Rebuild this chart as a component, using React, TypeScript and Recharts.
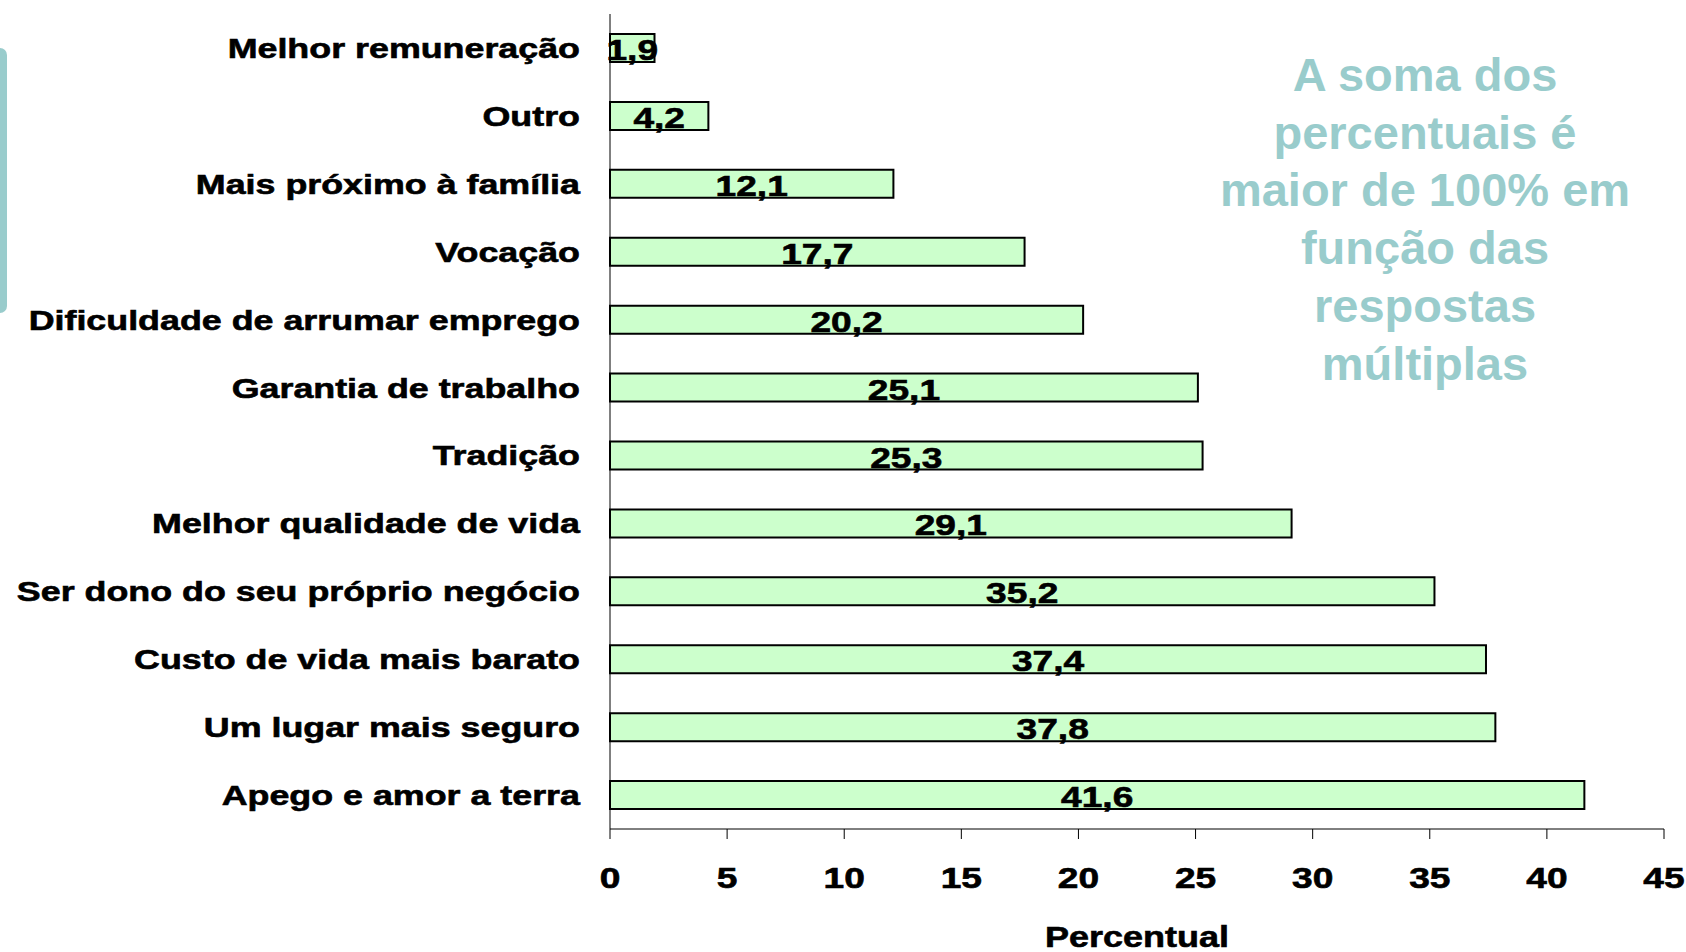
import React from 'react';
import { BarChart, Bar, XAxis, YAxis, LabelList } from 'recharts';

const categories = [
  'Melhor remuneração',
  'Outro',
  'Mais próximo à família',
  'Vocação',
  'Dificuldade de arrumar emprego',
  'Garantia de trabalho',
  'Tradição',
  'Melhor qualidade de vida',
  'Ser dono do seu próprio negócio',
  'Custo de vida mais barato',
  'Um lugar mais seguro',
  'Apego e amor a terra',
];

const percentuais = [1.9, 4.2, 12.1, 17.7, 20.2, 25.1, 25.3, 29.1, 35.2, 37.4, 37.8, 41.6];

const xTicks = [0, 5, 10, 15, 20, 25, 30, 35, 40, 45];

const noteLines = ['A soma dos', 'percentuais é', 'maior de 100% em', 'função das', 'respostas', 'múltiplas'];

const data = categories.map((name, i) => ({ name, value: percentuais[i] }));

const FONT = '"Liberation Sans", Arial, sans-serif';
const TEAL = '#99CCCC';
// the source chart's text is stretched sideways and a bit heavier
const STRETCH = 1.28;
const HEAVY = { stroke: '#000', strokeWidth: 0.6 };

const fmt = (v: number) => v.toFixed(1).replace('.', ',');

const CategoryTick = ({ x, y, payload }: any) => (
  <g transform={`translate(${x},${y}) scale(${STRETCH},1)`}>
    <text textAnchor="end" dy={10} fontSize={28} fontWeight="bold" fill="#000" fontFamily={FONT} {...HEAVY}>
      {payload.value}
    </text>
  </g>
);

const ValueTick = ({ x, y, payload }: any) => (
  <g transform={`translate(${x},${y}) scale(${STRETCH},1)`}>
    <text textAnchor="middle" dy={47} fontSize={29} fontWeight="bold" fill="#000" fontFamily={FONT} {...HEAVY}>
      {payload.value}
    </text>
  </g>
);

const renderBarLabel = ({ x, y, width, height, value }: any) => {
  const cx = x + width / 2;
  const cy = y + height / 2 + 12;
  return (
    <g transform={`translate(${cx},${cy}) scale(${STRETCH},1)`}>
      <text textAnchor="middle" fontSize={29} fontWeight="bold" fill="#000" fontFamily={FONT} {...HEAVY}>
        {fmt(value)}
      </text>
    </g>
  );
};

const renderAxisTitle = ({ viewBox }: any) => {
  const cx = viewBox.x + viewBox.width / 2;
  const by = viewBox.y + 118;
  return (
    <g transform={`translate(${cx},${by}) scale(1.2,1)`}>
      <text textAnchor="middle" fontSize={30} fontWeight="bold" fill="#000" fontFamily={FONT} {...HEAVY}>
        Percentual
      </text>
    </g>
  );
};

const App = () => {
  return (
    <div
      style={{
        position: 'absolute',
        left: 0,
        top: 0,
        width: 1686,
        height: 952,
        background: '#fff',
        overflow: 'hidden',
      }}
    >
      <div
        style={{
          position: 'absolute',
          left: 0,
          top: 48,
          width: 7,
          height: 265,
          background: TEAL,
          borderTopRightRadius: 7,
          borderBottomRightRadius: 7,
        }}
      />
      <BarChart
        width={1686}
        height={952}
        data={data}
        layout="vertical"
        margin={{ top: 14, right: 22, bottom: 0, left: 0 }}
      >
        <XAxis
          type="number"
          domain={[0, 45]}
          ticks={xTicks}
          interval={0}
          height={123}
          stroke="#000"
          tickSize={10}
          tickLine={{ stroke: '#000' }}
          axisLine={{ stroke: '#000' }}
          tick={<ValueTick />}
          label={{ content: renderAxisTitle }}
        />
        <YAxis
          type="category"
          dataKey="name"
          width={610}
          interval={0}
          tickSize={0}
          tickMargin={30}
          tickLine={false}
          axisLine={{ stroke: '#000' }}
          tick={<CategoryTick />}
        />
        <Bar dataKey="value" barSize={28} fill="#CCFFCC" stroke="#000" strokeWidth={2} isAnimationActive={false}>
          <LabelList dataKey="value" content={renderBarLabel} />
        </Bar>
      </BarChart>
      <div
        style={{
          position: 'absolute',
          left: 1175,
          top: 46,
          width: 500,
          textAlign: 'center',
          color: TEAL,
          fontFamily: FONT,
          fontWeight: 'bold',
          fontSize: 47,
          lineHeight: '57.7px',
        }}
      >
        {noteLines.map((line) => (
          <div key={line}>{line}</div>
        ))}
      </div>
    </div>
  );
};

export default App;
